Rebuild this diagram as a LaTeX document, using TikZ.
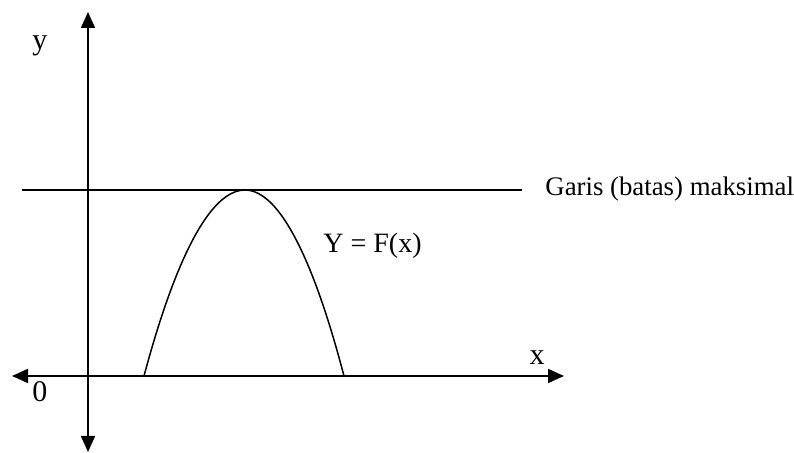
\documentclass[tikz,border=0pt]{standalone}
\usepackage{fontspec}
\setmainfont{Liberation Serif}
\usetikzlibrary{arrows.meta}
\begin{document}
\begin{tikzpicture}[x=0.5pt,y=0.5pt,
    panah/.style={-{Triangle[length=8pt,width=7pt]},line width=0.9pt},
    garis/.style={line width=0.9pt},
    kurva/.style={line width=0.75pt},
    teks/.style={inner sep=0pt,font=\fontsize{13.4}{16}\selectfont},
    huruf/.style={inner sep=0pt,font=\fontsize{15}{18}\selectfont}]
  \useasboundingbox (0,0) rectangle (794,453);
  % sumbu
  \coordinate (O) at (88,77);
  \coordinate (yatas) at (88,441);
  \coordinate (ybawah) at (88,1);
  \coordinate (xkiri) at (12,77);
  \coordinate (xkanan) at (564,77);
  \draw[panah] (O) -- (yatas); \draw[panah] (O) -- (ybawah);
  \draw[panah] (O) -- (xkiri); \draw[panah] (O) -- (xkanan);
  % garis maksimal dan kurva
  \coordinate (maxkiri) at (22,263);
  \coordinate (maxkanan) at (522,263);
  \draw[garis] (maxkiri) -- (maxkanan);
  \coordinate (akar1) at (144,77);
  \coordinate (puncak) at (245,263);
  \coordinate (akar2) at (344,77);
  \draw[kurva] (akar1) parabola bend (puncak) (akar2);
  % label
  \node[huruf,anchor=base] (ly) at (40,403) {y};
  \node[huruf,anchor=base] (lx) at (537,88) {x};
  \node[huruf,anchor=base] (lnol) at (40,51) {0};
  \node[teks,anchor=base west,font=\fontsize{14}{17}\selectfont] (lfungsi) at (323,200) {Y = F(x)};
  \node[teks,anchor=base west] (lmaks) at (545,257) {Garis (batas) maksimal};
\end{tikzpicture}
\end{document}
